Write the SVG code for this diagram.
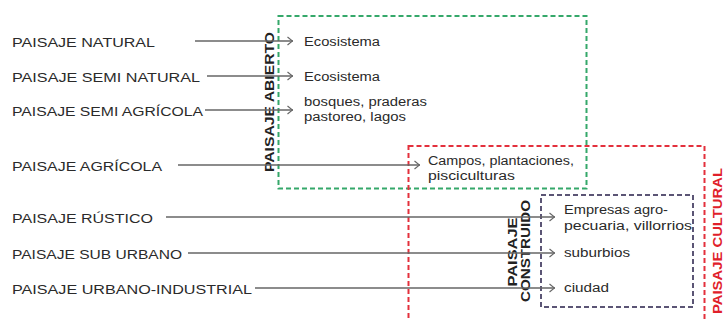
<svg xmlns="http://www.w3.org/2000/svg" width="724" height="320" viewBox="0 0 724 320">
<style>
.lbl{font-family:"Liberation Sans",Arial,sans-serif;font-size:12.5px;fill:#2a2a2a}
.itm{font-family:"Liberation Sans",Arial,sans-serif;font-size:12.5px;fill:#2a2a2a}
.vt{font-family:"Liberation Sans",Arial,sans-serif;font-size:13px;font-weight:bold;fill:#222;text-anchor:middle}
.box{fill:none;stroke-width:2;stroke-dasharray:5 3}
.ln{stroke:#666;stroke-width:1.3;fill:none}
</style>
<defs>
<marker id="chev" viewBox="0 0 6 10" refX="6" refY="5" markerWidth="6" markerHeight="10" markerUnits="userSpaceOnUse" orient="auto">
<path d="M0.5,1 L5.5,5 L0.5,9" fill="none" stroke="#666" stroke-width="1.2"/>
</marker>
</defs>
<rect width="724" height="320" fill="#ffffff"/>

<g id="group-abierto">
<rect class="box" x="278.5" y="16" width="308" height="172.5" stroke="#35a86a"/>
<text class="vt" transform="translate(274,102) rotate(-90)" textLength="140" lengthAdjust="spacingAndGlyphs">PAISAJE ABIERTO</text>
</g>
<g id="group-cultural">
<rect class="box" x="408.5" y="146" width="296" height="190" stroke="#e3303c"/>
<text class="vt" transform="translate(722,241) rotate(-90)" textLength="146" lengthAdjust="spacingAndGlyphs" style="fill:#e0202a">PAISAJE CULTURAL</text>
</g>
<g id="group-construido">
<rect class="box" x="541" y="195" width="152" height="112" stroke="#5b5575"/>
<text class="vt" transform="translate(517,252) rotate(-90)" textLength="69" lengthAdjust="spacingAndGlyphs">PAISAJE</text>
<text class="vt" transform="translate(530,251) rotate(-90)" textLength="102" lengthAdjust="spacingAndGlyphs">CONSTRUIDO</text>
</g>

<g id="connectors">
<line class="ln" x1="195" y1="41" x2="293" y2="41" marker-end="url(#chev)"/>
<line class="ln" x1="207" y1="76" x2="293" y2="76" marker-end="url(#chev)"/>
<line class="ln" x1="205" y1="110" x2="293" y2="110" marker-end="url(#chev)"/>
<line class="ln" x1="178" y1="165" x2="420" y2="165" marker-end="url(#chev)"/>
<line class="ln" x1="166" y1="217" x2="555" y2="217" marker-end="url(#chev)"/>
<line class="ln" x1="188" y1="253" x2="555" y2="253" marker-end="url(#chev)"/>
<line class="ln" x1="255" y1="288" x2="555" y2="288" marker-end="url(#chev)"/>
</g>

<g id="src-natural"><text class="lbl" x="12" y="47" textLength="143" lengthAdjust="spacingAndGlyphs">PAISAJE NATURAL</text></g>
<g id="src-seminatural"><text class="lbl" x="12" y="82" textLength="188" lengthAdjust="spacingAndGlyphs">PAISAJE SEMI NATURAL</text></g>
<g id="src-semiagricola"><text class="lbl" x="12" y="116" textLength="191" lengthAdjust="spacingAndGlyphs">PAISAJE SEMI AGRÍCOLA</text></g>
<g id="src-agricola"><text class="lbl" x="12" y="171" textLength="150" lengthAdjust="spacingAndGlyphs">PAISAJE AGRÍCOLA</text></g>
<g id="src-rustico"><text class="lbl" x="12" y="223" textLength="141" lengthAdjust="spacingAndGlyphs">PAISAJE RÚSTICO</text></g>
<g id="src-suburbano"><text class="lbl" x="12" y="259" textLength="170" lengthAdjust="spacingAndGlyphs">PAISAJE SUB URBANO</text></g>
<g id="src-urbanoind"><text class="lbl" x="12" y="294" textLength="240" lengthAdjust="spacingAndGlyphs">PAISAJE URBANO-INDUSTRIAL</text></g>

<g id="dst-ecosistema1"><text class="itm" x="304" y="46" textLength="76" lengthAdjust="spacingAndGlyphs">Ecosistema</text></g>
<g id="dst-ecosistema2"><text class="itm" x="304" y="81" textLength="76" lengthAdjust="spacingAndGlyphs">Ecosistema</text></g>
<g id="dst-bosques">
<text class="itm" x="304" y="106" textLength="123" lengthAdjust="spacingAndGlyphs">bosques, praderas</text>
<text class="itm" x="304" y="121" textLength="102" lengthAdjust="spacingAndGlyphs">pastoreo, lagos</text>
</g>
<g id="dst-campos">
<text class="itm" x="428" y="165" textLength="146" lengthAdjust="spacingAndGlyphs">Campos, plantaciones,</text>
<text class="itm" x="428" y="180" textLength="87" lengthAdjust="spacingAndGlyphs">pisciculturas</text>
</g>
<g id="dst-empresas">
<text class="itm" x="564" y="214" textLength="104" lengthAdjust="spacingAndGlyphs">Empresas agro-</text>
<text class="itm" x="564" y="230" textLength="128" lengthAdjust="spacingAndGlyphs">pecuaria, villorrios</text>
</g>
<g id="dst-suburbios"><text class="itm" x="564" y="257" textLength="66" lengthAdjust="spacingAndGlyphs">suburbios</text></g>
<g id="dst-ciudad"><text class="itm" x="564" y="292" textLength="45" lengthAdjust="spacingAndGlyphs">ciudad</text></g>
</svg>
